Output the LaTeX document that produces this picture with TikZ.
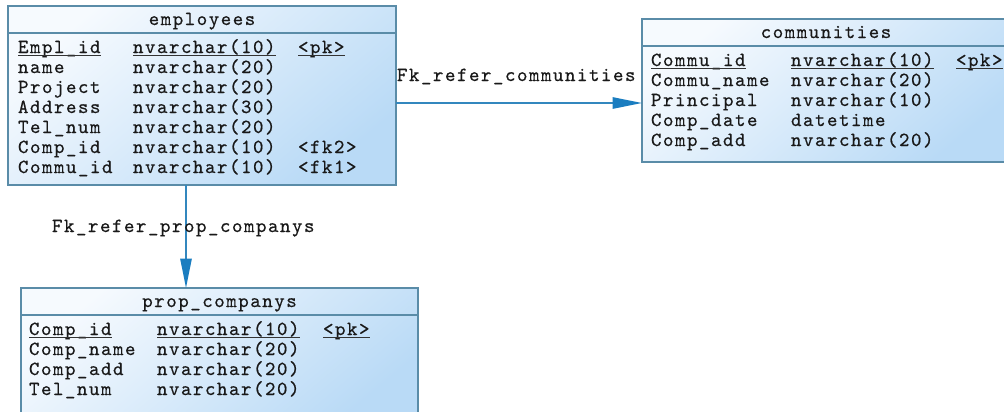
\documentclass[tikz,border=0pt]{standalone}
\usepackage{fontspec}
\newfontfamily\ermono[LetterSpace=7.5,FakeBold=0.5]{lmmono10-regular.otf}
\usetikzlibrary{arrows.meta,calc}
\definecolor{bord}{HTML}{5A8CA8}
\definecolor{fillA}{HTML}{F6FAFE}
\definecolor{fillB}{HTML}{B9DAF6}
\definecolor{connc}{HTML}{3387BE}
\definecolor{headc}{HTML}{1A7DC0}
\tikzset{
  tbl/.style={draw=bord, line width=1.1pt, inner sep=0pt, outer sep=0pt, anchor=north west, rectangle,
    top color=fillA, bottom color=fillB, shading angle=40},
  sepline/.style={draw=bord, line width=1pt},
  txt/.style={font=\ermono\fontsize{15pt}{18pt}\selectfont, inner sep=0pt, outer sep=0pt, anchor=base west, text=black!90},
  ttl/.style={txt, anchor=base},
  uline/.style={draw=black!80, line width=0.7pt},
  fk/.style={draw=connc, line width=1.1pt, -{Triangle[length=22pt,width=8.5pt,fill=headc,color=headc]}},
}
\begin{document}
\begin{tikzpicture}[x=0.75pt,y=-0.75pt]
\clip (0,0) rectangle (1004,411);
\fill[white] (0,0) rectangle (1004,411);

% tables
\node[tbl, minimum width=388*0.75pt, minimum height=179*0.75pt] (emp) at (8,6) {};
\node[tbl, minimum width=368*0.75pt, minimum height=143*0.75pt] (comm) at (642,19) {};
\node[tbl, minimum width=397*0.75pt, minimum height=135*0.75pt] (prop) at (21,288) {};

\draw[sepline] ($(emp.north west)+(0,27)$) -- ($(emp.north east)+(0,27)$);
\draw[sepline] ($(comm.north west)+(0,27)$) -- ($(comm.north east)+(0,27)$);
\draw[sepline] ($(prop.north west)+(0,27)$) -- ($(prop.north east)+(0,27)$);

% titles
\node[ttl] (empT) at (202,25) {employees};
\node[ttl] (commT) at (826,38) {communities};
\node[ttl] (propT) at (219.5,307) {prop\_companys};

% employees rows
\node[txt] (e1a) at (18,53) {Empl\_id};
\node[txt] (e1b) at (133,53) {nvarchar(10)};
\node[txt] (e1c) at (298,53) {<pk>};
\foreach \n in {e1a,e1b,e1c}
  \draw[uline] ($(\n.base west)+(0,2.5)$) -- ($(\n.base east)+(0,2.5)$);
\foreach \a/\b/\c [count=\i from 2] in {name/nvarchar(20)/,Project/nvarchar(20)/,Address/nvarchar(30)/,Tel\_num/nvarchar(20)/,Comp\_id/nvarchar(10)/<fk2>,Commu\_id/nvarchar(10)/<fk1>}{
  \node[txt] (e\i a) at (18,{33+\i*20}) {\a};
  \node[txt] (e\i b) at (133,{33+\i*20}) {\b};
  \node[txt] (e\i c) at (298,{33+\i*20}) {\c};
}

% communities rows
\node[txt] (c1a) at (651,66) {Commu\_id};
\node[txt] (c1b) at (791,66) {nvarchar(10)};
\node[txt] (c1c) at (956,66) {<pk>};
\foreach \n in {c1a,c1b,c1c}
  \draw[uline] ($(\n.base west)+(0,2.5)$) -- ($(\n.base east)+(0,2.5)$);
\foreach \a/\b [count=\i from 2] in {Commu\_name/nvarchar(20),Principal/nvarchar(10),Comp\_date/datetime,Comp\_add/nvarchar(20)}{
  \node[txt] (c\i a) at (651,{46+\i*20}) {\a};
  \node[txt] (c\i b) at (791,{46+\i*20}) {\b};
}

% prop_companys rows
\node[txt] (p1a) at (29,335) {Comp\_id};
\node[txt] (p1b) at (157,335) {nvarchar(10)};
\node[txt] (p1c) at (323,335) {<pk>};
\foreach \n in {p1a,p1b,p1c}
  \draw[uline] ($(\n.base west)+(0,2.5)$) -- ($(\n.base east)+(0,2.5)$);
\foreach \a/\b [count=\i from 2] in {Comp\_name/nvarchar(20),Comp\_add/nvarchar(20),Tel\_num/nvarchar(20)}{
  \node[txt] (p\i a) at (29,{315+\i*20}) {\a};
  \node[txt] (p\i b) at (157,{315+\i*20}) {\b};
}

% connectors
\coordinate (h0) at ($(emp.north east)+(0,97)$);
\draw[fk] (h0) -- (h0 -| comm.west);
\coordinate (v0) at ($(emp.south west)+(178,0)$);
\draw[fk] (v0) -- (v0 |- prop.north);

% labels
\node[txt] (lblC) at (397,81) {Fk\_refer\_communities};
\node[txt] (lblP) at (52,232) {Fk\_refer\_prop\_companys};
\end{tikzpicture}
\end{document}
